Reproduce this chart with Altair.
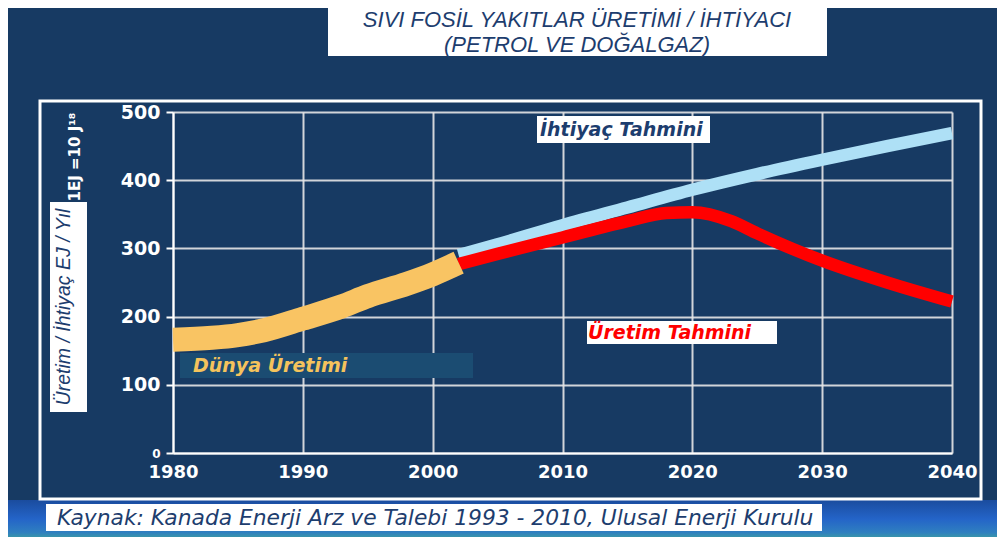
import altair as alt
import pandas as pd

# ---- data ----
years_prod = [1980, 1983, 1985, 1987, 1990, 1993, 1995, 1998, 2000, 2002]
prod_vals = [166, 169, 173, 180, 197, 215, 230, 248, 262, 279]

years_demand = [2002, 2005, 2010, 2015, 2020, 2025, 2030, 2035, 2040]
demand_vals = [290, 306, 334, 360, 386, 409, 430, 450, 469]

years_fcst = [2002, 2005, 2010, 2015, 2018, 2020, 2023, 2025, 2030, 2035, 2040]
fcst_vals = [277, 292, 316, 340, 352, 353, 340, 322, 282, 250, 222]

x_ticks = [1980, 1990, 2000, 2010, 2020, 2030, 2040]
y_ticks = [0, 100, 200, 300, 400, 500]

title_lines = ["SIVI FOSİL YAKITLAR ÜRETİMİ / İHTİYACI", "(PETROL VE DOĞALGAZ)"]
y_title = "Üretim / İhtiyaç EJ / Yıl"
unit_note = "1EJ =10 J¹⁸"
lbl_demand = "İhtiyaç Tahmini"
lbl_fcst = "Üretim Tahmini"
lbl_prod = "Dünya Üretimi"
source = "Kaynak: Kanada Enerji Arz ve Talebi 1993 - 2010, Ulusal Enerji Kurulu"

df = pd.DataFrame({
    "year": years_prod + years_demand + years_fcst,
    "value": prod_vals + demand_vals + fcst_vals,
    "series": ["prod"] * len(years_prod) + ["demand"] * len(years_demand) + ["fcst"] * len(years_fcst),
})
one = pd.DataFrame({"k": [0]})

NAVY = "#173a63"
TXT = "#1d3d6e"

xenc = alt.X("year:Q", scale=alt.Scale(domain=[1980, 2040], nice=False, zero=False),
             axis=alt.Axis(values=x_ticks, format="d", title=None, ticks=False,
                           labelPadding=10, labelFlush=False, labelFontSize=18))
yenc = alt.Y("value:Q", scale=alt.Scale(domain=[0, 500], nice=False),
             axis=alt.Axis(values=y_ticks, title=None, ticks=True, tickSize=7,
                           labelPadding=6, labelFlush=False,
                           labelFontSize={"condition": {"test": "datum.value === 0", "value": 12},
                                          "value": 19}))

base = alt.Chart(df).encode(x=xenc, y=yenc)

demand = base.transform_filter(alt.datum.series == "demand").mark_line(
    color="#aee0f6", strokeWidth=12.5, interpolate="monotone", strokeCap="butt")
fcst = base.transform_filter(alt.datum.series == "fcst").mark_line(
    color="#ff0000", strokeWidth=12.5, interpolate="monotone", strokeCap="butt")
prod = base.transform_filter(alt.datum.series == "prod").mark_line(
    color="#f9c463", strokeWidth=24, interpolate="monotone", strokeCap="butt")


def box(x1, x2, y1, y2, fill):
    return alt.Chart(one).mark_rect(fill=fill).encode(
        x=alt.value(x1), x2=alt.value(x2), y=alt.value(y1), y2=alt.value(y2))


def txt(s, x, y, size, color, font="DejaVu Sans", weight="normal", style="italic",
        align="left", angle=None):
    kw = dict(fontSize=size, color=color, font=font, fontWeight=weight,
              fontStyle=style, align=align, baseline="middle")
    if angle is not None:
        kw["angle"] = angle
    return alt.Chart(one).mark_text(**kw).encode(
        x=alt.value(x), y=alt.value(y), text=alt.value(s))


bottom_band = alt.Chart(one).mark_rect(
    color=alt.Gradient(gradient="linear",
                       stops=[alt.GradientStop(color="#1a4c9e", offset=0),
                              alt.GradientStop(color="#2464c8", offset=0.5),
                              alt.GradientStop(color="#2f7fc0", offset=0.85),
                              alt.GradientStop(color="#3a98a6", offset=1)],
                       x1=0, x2=0, y1=0, y2=1)
).encode(x=alt.value(-165), x2=alt.value(824), y=alt.value(388), y2=alt.value(426))

frame = alt.Chart(one).mark_rect(fill=NAVY, fillOpacity=0, stroke="white", strokeWidth=3).encode(
    x=alt.value(-133), x2=alt.value(808), y=alt.value(-11), y2=alt.value(387))

title_box = box(155, 654, -104, -56, "white")
t1 = txt(title_lines[0], 404, -92, 22, TXT, font="Liberation Sans", align="center")
t2 = txt(title_lines[1], 404, -67, 22, TXT, font="Liberation Sans", align="center")

ytitle_box = box(-123, -86, 90, 300, "white")
ytitle = txt(y_title, -109, 195, 19.5, TXT, font="Liberation Sans", align="center", angle=270)
unit = txt(unit_note, -98, 45, 15, "white", weight="bold", style="normal", align="center", angle=270)

dem_box = box(364, 537, 4, 31, "white")
dem_t = txt(lbl_demand, 367, 18, 19, TXT, weight="bold")

fc_box = box(414, 604, 209, 232, "white")
fc_t = txt(lbl_fcst, 415, 221, 19, "#ff0000", weight="bold")

prod_band = box(7, 300, 241, 266, "#1b4c72")
prod_t = txt(lbl_prod, 20, 254, 19, "#f5c35c", weight="bold")

src_box = box(-127, 649, 392, 419, "white")
src_t = txt(source, -116, 406, 21.8, TXT)

chart = alt.layer(
    bottom_band, frame, prod_band, prod_t,
    demand, fcst, prod,
    dem_box, dem_t, fc_box, fc_t,
    title_box, t1, t2, ytitle_box, ytitle, unit, src_box, src_t,
).properties(
    width=779, height=341,
    padding={"left": 165, "top": 104, "right": 45, "bottom": 84},
    autosize=alt.AutoSizeParams(type="none"),
    background=NAVY,
).configure_view(
    stroke=None, fill=NAVY
).configure_axis(
    labelColor="white", labelFont="DejaVu Sans", labelFontWeight="bold",
    gridColor="#e6e6e6", gridWidth=2, gridOpacity=0.9,
    domainColor="white", domainWidth=2, tickColor="white", tickWidth=2,
)

chart.save("out.html", embed_options={"renderer": "svg", "actions": False})
